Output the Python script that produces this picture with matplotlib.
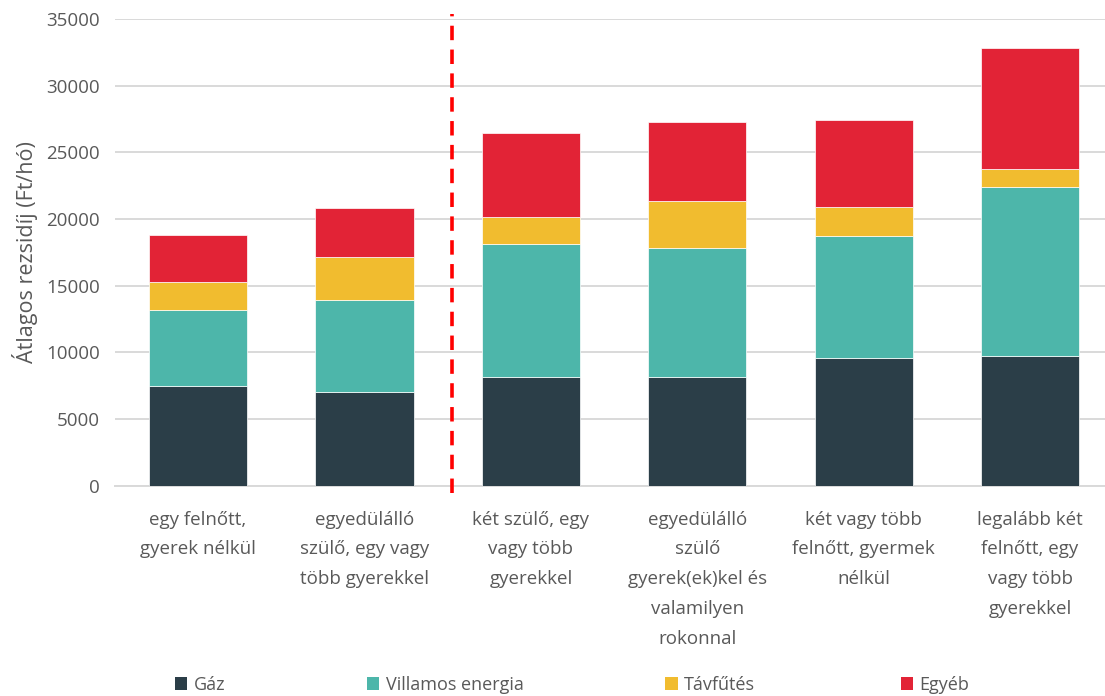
import matplotlib
matplotlib.use("Agg")
import matplotlib.pyplot as plt
from matplotlib.patches import Patch
import numpy as np

plt.rcParams['font.family'] = ['Open Sans', 'DejaVu Sans']

categories = [
    "egy felnőtt,\ngyerek nélkül",
    "egyedülálló\nszülő, egy vagy\ntöbb gyerekkel",
    "két szülő, egy\nvagy több\ngyerekkel",
    "egyedülálló\nszülő\ngyerek(ek)kel és\nvalamilyen\nrokonnal",
    "két vagy több\nfelnőtt, gyermek\nnélkül",
    "legalább két\nfelnőtt, egy\nvagy több\ngyerekkel",
]
gaz = [7490, 7020, 8170, 8170, 9570, 9720]
villamos = [5680, 6900, 9950, 9680, 9180, 12700]
tavfutes = [2120, 3200, 2050, 3500, 2130, 1310]
egyeb = [3510, 3700, 6280, 5950, 6520, 9070]
series_names = ["Gáz", "Villamos energia", "Távfűtés", "Egyéb"]
colors = ["#2b3e48", "#4db6aa", "#f1bc2f", "#e22336"]
yticks = [0, 5000, 10000, 15000, 20000, 25000, 30000, 35000]
ylabel = "Átlagos rezsidíj (Ft/hó)"

text_color = "#595959"
fig = plt.figure(figsize=(11.05, 6.96), dpi=100)
ax = fig.add_axes([0.104, 0.3023, 0.8960, 0.6704])

x = np.arange(len(categories))
bottom = np.zeros(len(categories))
handles = []
for vals, name, c in zip([gaz, villamos, tavfutes, egyeb], series_names, colors):
    ax.bar(x, vals, 0.59, bottom=bottom, color=c, edgecolor="white", linewidth=0.5, zorder=3)
    bottom += np.array(vals)
    handles.append(Patch(facecolor=c, edgecolor='none', label=name))

ax.set_xlim(-0.5, 5.45)
ax.set_ylim(0, 35000)
ax.set_yticks(yticks)
ax.set_yticklabels([str(t) for t in yticks], fontsize=13.5, color=text_color)
ax.yaxis.grid(True, color="#d9d9d9", linewidth=1.4, zorder=0)
ax.set_axisbelow(True)
ax.tick_params(axis='y', length=0, pad=11)
ax.tick_params(axis='x', length=0, pad=18)
ax.set_xticks(x)
ax.set_xticklabels(categories, fontsize=13.5, color=text_color, linespacing=1.85, va='top')
for s in ["top", "right", "left"]:
    ax.spines[s].set_visible(False)
ax.spines["bottom"].set_color("#d9d9d9")
ax.spines["bottom"].set_linewidth(1.4)
ax.set_ylabel(ylabel, fontsize=15.5, color=text_color, labelpad=6)

ax.axvline(1.524, ymin=-0.015, ymax=1.01, color="#ff0000", linestyle=(0, (4, 2.6)),
           linewidth=2.6, clip_on=False, zorder=4)

legend_x = [0.158, 0.332, 0.602, 0.815]
for h, lx in zip(handles, legend_x):
    leg = fig.legend(handles=[h], loc='center left', bbox_to_anchor=(lx, 0.016), frameon=False,
                     fontsize=13, handlelength=0.7, handleheight=0.7, handletextpad=0.35,
                     borderaxespad=0, borderpad=0)
    for t in leg.get_texts():
        t.set_color(text_color)

fig.savefig("out.png", dpi=100)
